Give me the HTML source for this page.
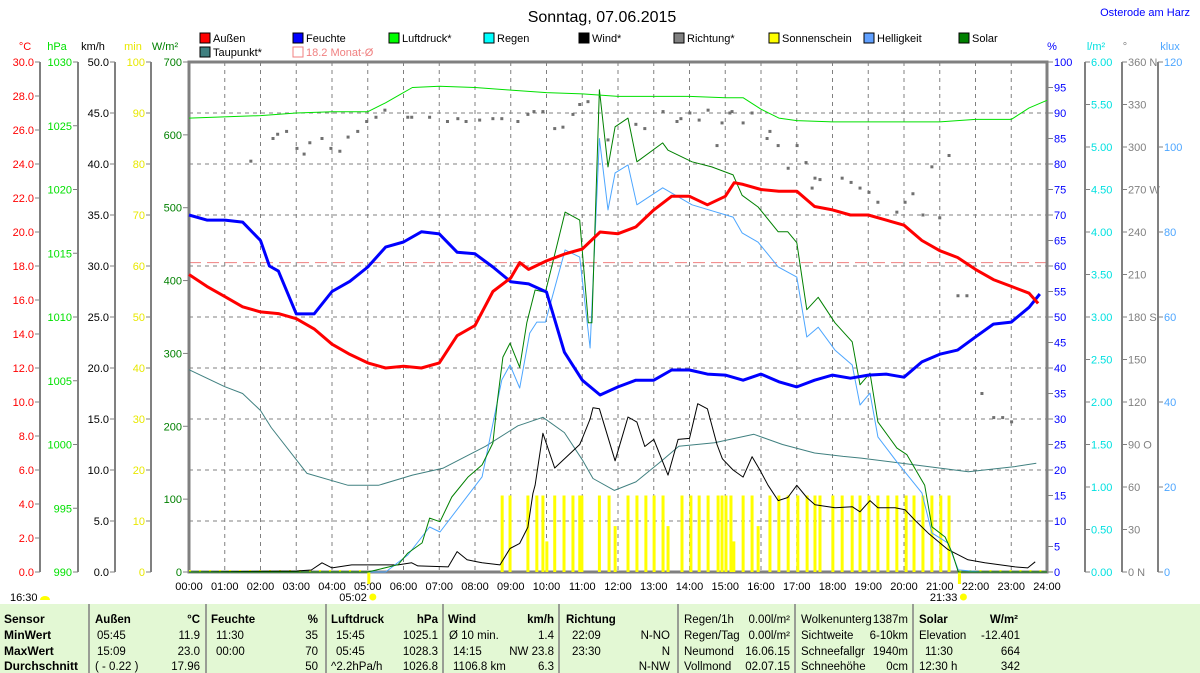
<!DOCTYPE html>
<html><head><meta charset="utf-8"><style>
html,body{margin:0;padding:0;background:#fff;}
svg{display:block;font-family:"Liberation Sans",sans-serif;}
</style></head><body>
<svg id="c" width="1200" height="673" viewBox="0 0 1200 673" xmlns="http://www.w3.org/2000/svg">
<rect x="0" y="0" width="1200" height="673" fill="#fff"/>
<text x="602" y="22" font-size="16" text-anchor="middle">Sonntag, 07.06.2015</text>
<text x="1190" y="16" font-size="11" fill="#0000ff" text-anchor="end">Osterode am Harz</text>
<g id="grid"></g><g id="axes"></g><g id="legend"></g><g id="series"></g>
<g id="table"></g>
</svg>
<script>
// ---- data (hours, values in axis units) ----
const hourTicks = ["00:00","01:00","02:00","03:00","04:00","05:00","06:00","07:00","08:00","09:00","10:00","11:00","12:00","13:00","14:00","15:00","16:00","17:00","18:00","19:00","20:00","21:00","22:00","23:00","24:00"];
const tempT = [0,0.5,1,1.5,2,2.5,3,3.5,4,4.5,5,5.5,6,6.5,7,7.5,8,8.5,9,9.25,9.5,10,10.5,11,11.5,12,12.5,13,13.5,14,14.5,15,15.25,15.5,16,16.5,17,17.5,18,18.5,19,19.5,20,20.5,21,21.5,22,22.5,23,23.5,23.75];
const tempV = [17.5,16.8,16.2,15.6,15.3,15.2,14.9,14.3,13.4,12.8,12.3,12.0,12.1,12.0,12.3,13.9,14.5,16.5,17.3,18.2,17.8,18.3,18.7,19.0,20.0,19.9,20.3,21.3,22.1,22.1,21.6,22.1,22.9,22.8,22.5,22.4,22.4,21.5,21.3,21.0,21.0,20.7,20.4,19.5,18.9,18.5,17.8,17.2,16.8,16.4,15.8];
const humT = [0,0.5,1,1.5,2,2.25,2.5,3,3.5,4,4.5,5,5.5,6,6.5,7,7.5,8,8.5,9,9.5,10,10.5,11,11.5,12,12.5,13,13.5,14,14.5,15,15.5,16,16.5,17,17.5,18,18.5,19,19.5,20,20.5,21,21.5,22,22.5,23,23.5,23.8];
const humV = [70,69,69,68.6,65,60,59,50.6,50.6,55,57,59.8,63.7,64.7,66.7,66.3,62.7,62.4,59.8,56.9,56.5,54.9,43.1,37.6,34.7,36.3,37.6,37.6,39.6,39.6,38.8,38.6,37.6,38.8,37.3,36.3,37.6,38.6,38,38.6,38.8,38.2,41.2,42.7,43.5,46.1,48.6,49,51.9,54.5];
const presT = [0,2,3,4,5,5.5,6,6.25,7,8,9,10,11,12,13,14,15,15.5,16,16.5,17,18,19,20,21,22,23,23.5,24];
const presV = [1025.6,1025.8,1026.0,1026.1,1026.1,1026.8,1027.6,1028.0,1028.1,1028.0,1027.8,1027.6,1027.5,1027.3,1027.3,1027.3,1027.2,1027.2,1026.3,1025.6,1025.4,1025.3,1025.3,1025.3,1025.3,1025.5,1025.5,1026.4,1027.0];
const dewT = [0,1,1.5,2,2.3,3.3,4.45,5.3,6.25,7.1,8.3,9.2,9.9,10.5,11,11.3,11.9,12.5,13.2,13.7,14.7,15.8,16.6,17.5,18.3,18.8,20.3,21.8,23.1,23.7];
const dewV = [11.9,10.9,10.5,9.5,8.5,5.8,5.1,5.1,5.7,6.1,7.4,8.6,9.1,8.2,6.6,5.5,4.8,5.3,6.5,7.4,7.6,8.1,7.5,7.0,6.8,6.7,6.3,5.9,6.2,6.4];
const solarT = [0,5.0,5.85,6.12,6.52,6.73,7.02,7.35,7.8,8.2,8.5,8.63,8.78,8.98,9.25,9.45,9.68,9.97,10.17,10.52,10.93,11.17,11.27,11.48,11.72,11.92,12.28,12.53,13.25,13.4,14.07,14.62,15.22,15.47,15.92,16.48,16.75,17.0,17.28,17.6,18.07,18.55,18.77,19.05,19.27,19.8,20.08,20.58,20.78,21.15,21.35,21.52,24];
const solarV = [0,0,10,26,40,74,69,103,130,147,177,236,295,314,281,342,387,384,424,494,483,342,342,662,556,611,623,563,589,579,563,556,545,517,501,467,467,452,360,377,342,316,257,273,206,170,161,119,62,48,26,0,0];
const luxT = [0,5.5,6.12,6.73,7.02,8.2,8.75,8.98,9.25,9.53,9.73,9.97,10.52,10.93,11.22,11.48,11.72,11.92,12.28,12.53,13.25,14.07,15.22,15.47,15.92,16.48,17.0,17.28,17.6,18.07,18.55,18.77,19.05,19.27,19.8,20.5,20.78,21.23,21.52,22.17,24];
const luxV = [0,0,4.0,10.6,9.4,22.4,45.2,48.7,43.3,56.2,58.8,58.8,75.8,74.1,52.7,102,85.2,93.9,95.8,86.4,90.4,86.4,83.5,79.8,77.6,71.8,69.4,55.3,57.6,52.2,48.7,39.3,42.1,31.8,25.9,18.6,9.2,6.8,0.5,0,0];
const windT = [0,3.0,3.42,3.72,4.0,4.55,5.85,6.23,6.4,7.25,7.5,7.78,8.05,8.2,8.7,8.98,9.25,9.48,9.62,9.68,9.9,10.23,10.93,11.0,11.22,11.3,11.48,11.92,12.28,12.53,12.75,13.0,13.4,13.68,14.0,14.23,14.5,14.77,14.92,15.22,15.5,15.75,15.97,16.2,16.48,16.75,17.0,17.28,17.51,18.07,18.55,18.77,19.05,19.27,19.75,20.03,20.3,20.68,21.23,21.79,22.26,23.11,23.46,23.67];
const windV = [0,0.1,0.2,0.9,0.4,0.7,0.7,0.9,0.6,0.5,2.0,1.2,1.0,0.9,0.7,2.3,2.8,4.4,7.7,8.5,13.6,10.2,12.5,13.1,15.0,16.1,16.0,10.9,15.2,14.7,12.3,13.0,9.5,13.0,13.1,16.5,16.0,12.5,11.1,10.0,9.3,11.3,10.0,8.5,7.0,7.3,8.5,7.3,6.6,6.3,6.4,5.9,7.0,6.3,6.3,6.1,5.1,3.8,2.2,1.2,0.9,0.5,0.4,1.0];
const dirT = [1.73,2.35,2.48,2.73,3.02,3.22,3.38,3.72,3.97,4.22,4.45,4.72,4.97,5.23,5.48,6.12,6.23,6.73,7.23,7.52,7.75,8.13,8.5,8.75,9.2,9.48,9.65,9.9,10.23,10.46,10.74,10.93,11.16,11.72,12.5,12.75,13.26,13.65,13.76,14.01,14.27,14.52,14.77,14.91,15.13,15.19,15.5,15.75,16.17,16.25,16.48,16.76,17.01,17.26,17.43,17.51,17.65,18.27,18.52,18.77,19.02,19.27,19.8,20.03,20.25,20.53,20.78,21.0,21.26,21.51,21.76,22.18,22.51,22.76,23.01];
const dirV = [290,306,309,311,299,295,303,306,299,297,307,311,318,321,326,321,321,321,318,320,318,319,320,320,318,323,325,325,313,314,323,330,332,305,316,313,325,318,320,324,319,326,301,317,324,325,317,324,306,311,301,285,301,289,271,278,277,278,275,271,268,261,254,261,267,252,286,250,294,195,195,126,109,109,106];
const sunT = [8.76,8.98,9.48,9.73,9.9,10.01,10.23,10.49,10.74,10.93,10.99,11.48,11.75,11.92,12.28,12.53,12.78,13.01,13.26,13.40,13.79,14.04,14.27,14.52,14.80,14.91,15.02,15.16,15.24,15.50,15.75,15.92,16.25,16.50,16.76,17.03,17.29,17.51,17.65,18.01,18.27,18.55,18.77,19.02,19.27,19.55,19.80,20.06,20.28,20.53,20.78,21.03,21.26];
const sunV = [15,15,15,15,15,6,15,15,15,15,15,15,15,9,15,15,15,15,15,9,15,15,15,15,15,15,15,15,6,15,15,9,15,15,15,15,15,15,15,15,15,15,15,15,15,15,15,15,15,15,15,15,15];
const monthAvg = 18.2;

const NS="http://www.w3.org/2000/svg";
const X0=189,X1=1047,Y0=62,Y1=572,H=Y1-Y0;
const xH=h=>X0+h*(X1-X0)/24;
const yS=(v,min,max)=>Y1-(v-min)/(max-min)*H;
const yTemp=v=>yS(v,0,30), yHum=v=>yS(v,0,100), yPres=v=>yS(v,990,1030), yWind=v=>yS(v,0,50), ySun=v=>yS(v,0,100), ySol=v=>yS(v,0,700), yLux=v=>yS(v,0,120), yDir=v=>yS(v,0,360);
function mk(tag,attrs,parent,txt){const e=document.createElementNS(NS,tag);for(const k in attrs)e.setAttribute(k,attrs[k]);if(txt!==undefined)e.textContent=txt;parent.appendChild(e);return e;}
const grid=document.getElementById('grid'),axes=document.getElementById('axes'),leg=document.getElementById('legend'),ser=document.getElementById('series'),tbl=document.getElementById('table');

// grid
for(let i=1;i<24;i++){const l=mk('line',{x1:xH(i),x2:xH(i),y1:Y0,y2:Y1,stroke:'#808080','stroke-dasharray':'4,4','stroke-width':1},grid);

}
for(let i=1;i<10;i++){const y=Y0+i*H/10;const l=mk('line',{x1:X0,x2:X1,y1:y,y2:y,stroke:'#808080','stroke-dasharray':'4,4','stroke-width':1},grid);

}
const avg=mk('line',{x1:X0,x2:X1,y1:yTemp(monthAvg),y2:yTemp(monthAvg),stroke:'#f08080','stroke-dasharray':'12,6','stroke-width':1},grid);



// x axis labels
hourTicks.forEach((t,i)=>{const e=mk('text',{x:xH(i),y:590,'font-size':11,'text-anchor':'middle'},axes,t);

});

// left axes
const leftAxes=[
 {unit:'°C',col:'#ff0000',line:40,ux:25,n:15,lab:i=>(i*2).toFixed(1)},
 {unit:'hPa',col:'#00e000',line:78,ux:57,n:8,lab:i=>String(990+i*5)},
 {unit:'km/h',col:'#000000',line:115,ux:93,n:10,lab:i=>(i*5).toFixed(1)},
 {unit:'min',col:'#e8e800',line:151,ux:133,n:10,lab:i=>String(i*10)},
 {unit:'W/m²',col:'#008000',line:188,ux:165,n:7,lab:i=>String(i*100)}];
leftAxes.forEach(a=>{
 const u=mk('text',{x:a.ux,y:50,'font-size':11,fill:a.col,'text-anchor':'middle'},axes,a.unit);
 
 
 if(a.line<188)mk('line',{x1:a.line,x2:a.line,y1:Y0,y2:Y1,stroke:'#808080','stroke-width':2},axes);
 for(let i=0;i<=a.n;i++){const y=Y1-i*H/a.n;
  mk('line',{x1:a.line-5,x2:a.line,y1:y,y2:y,stroke:'#808080'},axes);
  const t=mk('text',{x:a.line-6,y:y+4,'font-size':11,fill:a.col,'text-anchor':'end'},axes,a.lab(i));
  
  }
});
// right axes
const dirNames={0:'0    N',180:'180 S',90:'90   O',270:'270 W',360:'360 N'};
const rightAxes=[
 {unit:'%',col:'#0000ff',line:1048,ux:1052,n:20,lab:i=>String(i*5)},
 {unit:'l/m²',col:'#00e0e0',line:1085,ux:1096,n:12,lab:i=>(i*0.5).toFixed(2)},
 {unit:'°',col:'#808080',line:1122,ux:1125,n:12,lab:i=>dirNames[i*30]||String(i*30)},
 {unit:'klux',col:'#4da6ff',line:1158,ux:1170,n:6,lab:i=>String(i*20)}];
rightAxes.forEach(a=>{
 const u=mk('text',{x:a.ux,y:50,'font-size':11,fill:a.col,'text-anchor':'middle'},axes,a.unit);
 
 
 if(a.line>1048)mk('line',{x1:a.line,x2:a.line,y1:Y0,y2:Y1,stroke:'#808080','stroke-width':2},axes);
 for(let i=0;i<=a.n;i++){const y=Y1-i*H/a.n;
  mk('line',{x1:a.line,x2:a.line+5,y1:y,y2:y,stroke:'#808080'},axes);
  const t=mk('text',{x:a.line+6,y:y+4,'font-size':11,fill:a.col},axes,a.lab(i));
  
  }
});
// frame
const fr=mk('rect',{x:X0,y:Y0,width:X1-X0,height:H,fill:'none',stroke:'#808080','stroke-width':3},axes);



// legend
const legItems=[['Außen','#ff0000',200,38],['Feuchte','#0000ff',293,38],['Luftdruck*','#00ff00',389,38],['Regen','#00ffff',484,38],['Wind*','#000000',579,38],['Richtung*','#808080',674,38],['Sonnenschein','#ffff00',769,38],['Helligkeit','#60a0ff',864,38],['Solar','#008000',959,38],['Taupunkt*','#408080',200,52]];
legItems.forEach(it=>{const g=mk('g',{},leg);
 
 
 mk('rect',{x:it[2],y:it[3]-5,width:10,height:10,fill:it[1],stroke:'#000'},g);
 mk('text',{x:it[2]+13,y:it[3]+4,'font-size':11},g,it[0]);});
const lg2=mk('g',{},leg);


mk('rect',{x:293,y:47,width:10,height:10,fill:'none',stroke:'#f08080'},lg2);
mk('text',{x:306,y:56,'font-size':11,fill:'#f08080'},lg2,'18.2 Monat-Ø');

// sunshine bars
sunT.forEach((t,i)=>{const y=ySun(sunV[i]);const r=mk('rect',{x:xH(t)-1.5,y:y,width:3,height:Y1-y,fill:'#ffff00'},ser);

});
// night dots on axis
const nd=mk('line',{x1:X0,x2:xH(5.03),y1:Y1-1,y2:Y1-1,stroke:'#ffff00','stroke-width':2,'stroke-dasharray':'2,8'},ser);


const nd2=mk('line',{x1:xH(21.55),x2:X1,y1:Y1-1,y2:Y1-1,stroke:'#ffff00','stroke-width':2,'stroke-dasharray':'2,8'},ser);



// direction dots
dirT.forEach((t,i)=>{const r=mk('rect',{x:xH(t)-1.5,y:yDir(dirV[i])-1.5,width:3,height:3,fill:'#707070'},ser);

});

function line(ts,vs,yf,col,w,name){const d=ts.map((t,i)=>(i?'L':'M')+xH(t).toFixed(1)+','+yf(vs[i]).toFixed(1)).join('');
 const p=mk('path',{d:d,fill:'none',stroke:col,'stroke-width':w,'stroke-linejoin':'round'},ser);
 
 }
line(dewT,dewV,yTemp,'#408080',1,'dewpoint-line');
line(windT,windV,yWind,'#000000',1,'wind-line');
line(luxT,luxV,yLux,'#4da6ff',1,'brightness-line');
line(solarT,solarV,ySol,'#008000',1,'solar-line');
line(presT,presV,yPres,'#00e000',1,'pressure-line');
line(humT,humV,yHum,'#0000ff',3,'humidity-line');
line(tempT,tempV,yTemp,'#ff0000',3,'temperature-line');

// sunrise / sunset marks
[[5.03,'05:02'],[21.55,'21:33']].forEach(s=>{const x=xH(s[0]);
 mk('line',{x1:x,x2:x,y1:Y1,y2:Y1+12,stroke:'#ffff00','stroke-width':3},axes);
 const t=mk('text',{x:x-2,y:601,'font-size':11,'text-anchor':'end'},axes,s[1]);
 
 
 mk('circle',{cx:x+4,cy:597,r:3.5,fill:'#ffff00'},axes);});
const mt=mk('text',{x:10,y:601,'font-size':11},axes,'16:30');


mk('path',{d:'M40,600 a5,4 0 0 1 10,0 z',fill:'#ffff00'},axes);

// table
const tb=mk('rect',{x:0,y:604,width:1200,height:69,fill:'#e3f8d4'},tbl);


[89,206,326,443,559,678,795,913].forEach(x=>mk('line',{x1:x,x2:x,y1:604,y2:673,stroke:'#808080','stroke-width':1.5},tbl));
const rowsY=[623,639,655,670];
const cells=[
 [4,'Sensor','s',1],[4,'MinWert','s',1],[4,'MaxWert','s',1],[4,'Durchschnitt','s',1]];
cells.forEach((c,i)=>{const t=mk('text',{x:c[0],y:rowsY[i],'font-size':12,'font-weight':'bold'},tbl,c[1]);
 
 });
function cell(x,r,txt,anchor,bold){const t=mk('text',{x:x,y:rowsY[r],'font-size':11.5,'text-anchor':anchor||'start','font-weight':bold?'bold':'normal'},tbl,txt);
 
 }
// Außen
cell(95,0,'Außen','start',1);cell(200,0,'°C','end',1);
cell(97,1,'05:45');cell(200,1,'11.9','end');cell(97,2,'15:09');cell(200,2,'23.0','end');cell(95,3,'( - 0.22 )');cell(200,3,'17.96','end');
// Feuchte
cell(211,0,'Feuchte','start',1);cell(318,0,'%','end',1);
cell(216,1,'11:30');cell(318,1,'35','end');cell(216,2,'00:00');cell(318,2,'70','end');cell(318,3,'50','end');
// Luftdruck
cell(331,0,'Luftdruck','start',1);cell(438,0,'hPa','end',1);
cell(336,1,'15:45');cell(438,1,'1025.1','end');cell(336,2,'05:45');cell(438,2,'1028.3','end');cell(331,3,'^2.2hPa/h');cell(438,3,'1026.8','end');
// Wind
cell(448,0,'Wind','start',1);cell(554,0,'km/h','end',1);
cell(449,1,'Ø 10 min.');cell(554,1,'1.4','end');cell(453,2,'14:15');cell(554,2,'NW 23.8','end');cell(453,3,'1106.8 km');cell(554,3,'6.3','end');
// Richtung
cell(566,0,'Richtung','start',1);
cell(572,1,'22:09');cell(670,1,'N-NO','end');cell(572,2,'23:30');cell(670,2,'N','end');cell(670,3,'N-NW','end');
// Regen/Mond
cell(684,0,'Regen/1h');cell(790,0,'0.00l/m²','end');cell(684,1,'Regen/Tag');cell(790,1,'0.00l/m²','end');
cell(684,2,'Neumond');cell(790,2,'16.06.15','end');cell(684,3,'Vollmond');cell(790,3,'02.07.15','end');
// Wolken
cell(801,0,'Wolkenunterg');cell(908,0,'1387m','end');cell(801,1,'Sichtweite');cell(908,1,'6-10km','end');
cell(801,2,'Schneefallgr');cell(908,2,'1940m','end');cell(801,3,'Schneehöhe');cell(908,3,'0cm','end');
// Solar
cell(919,0,'Solar','start',1);cell(1018,0,'W/m²','end',1);
cell(919,1,'Elevation');cell(1020,1,'-12.401','end');cell(925,2,'11:30');cell(1020,2,'664','end');cell(919,3,'12:30 h');cell(1020,3,'342','end');
</script>
</body></html>
